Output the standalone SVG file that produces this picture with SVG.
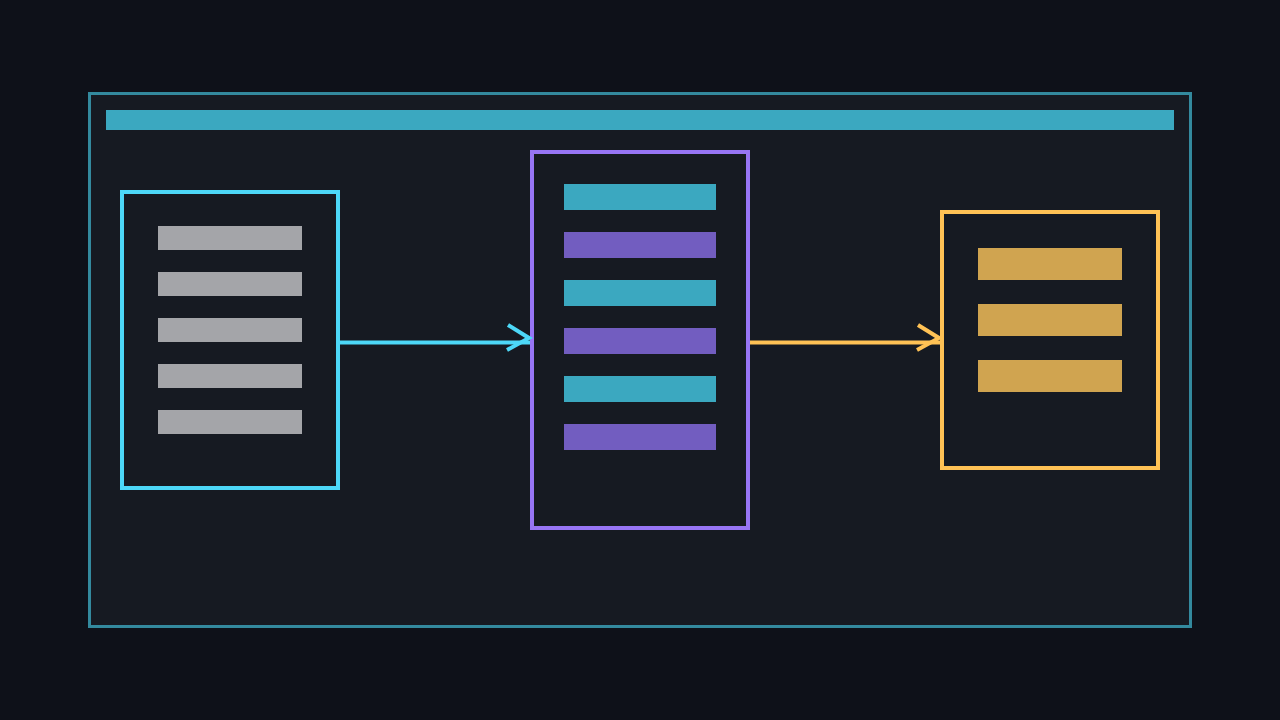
<svg xmlns="http://www.w3.org/2000/svg" width="1280" height="720" viewBox="0 0 1280 720">
<style>
.node{fill:none;stroke-width:4}
.bar-g{fill:#a4a5a9}
.bar-t{fill:#3ba8c0}
.bar-p{fill:#725dc0}
.bar-o{fill:#d0a450}
.conn{fill:none;stroke-width:4;stroke-linecap:butt}
.head{fill:none;stroke-width:4;stroke-linejoin:miter}
</style>
<rect x="0" y="0" width="1280" height="720" fill="#0e1119"/>
<g id="frame">
<rect x="89.5" y="93.5" width="1101" height="533" fill="#161a22" stroke="#3a9fb5" stroke-opacity="0.85" stroke-width="3"/>
<rect x="106" y="110" width="1068" height="20" fill="#3ba8c0"/>
</g>
<g id="node-left">
<rect class="node" x="122" y="192" width="216" height="296" stroke="#4dd8f8"/>
<rect class="bar-g" x="158" y="226" width="144" height="24"/>
<rect class="bar-g" x="158" y="272" width="144" height="24"/>
<rect class="bar-g" x="158" y="318" width="144" height="24"/>
<rect class="bar-g" x="158" y="364" width="144" height="24"/>
<rect class="bar-g" x="158" y="410" width="144" height="24"/>
</g>
<g id="node-middle">
<rect class="node" x="532" y="152" width="216" height="376" stroke="#9775f5"/>
<rect class="bar-t" x="564" y="184" width="152" height="26"/>
<rect class="bar-p" x="564" y="232" width="152" height="26"/>
<rect class="bar-t" x="564" y="280" width="152" height="26"/>
<rect class="bar-p" x="564" y="328" width="152" height="26"/>
<rect class="bar-t" x="564" y="376" width="152" height="26"/>
<rect class="bar-p" x="564" y="424" width="152" height="26"/>
</g>
<g id="node-right">
<rect class="node" x="942" y="212" width="216" height="256" stroke="#ffc255"/>
<rect class="bar-o" x="978" y="248" width="144" height="32"/>
<rect class="bar-o" x="978" y="304" width="144" height="32"/>
<rect class="bar-o" x="978" y="360" width="144" height="32"/>
</g>
<g id="connectors">
<line class="conn" x1="340" y1="342.5" x2="530" y2="342.5" stroke="#4dd8f8"/>
<polyline class="head" points="508,325 529,338 507,350" stroke="#4dd8f8"/>
<line class="conn" x1="750" y1="342.5" x2="940" y2="342.5" stroke="#ffc255"/>
<polyline class="head" points="918,325 939,338 917,350" stroke="#ffc255"/>
</g>
</svg>
